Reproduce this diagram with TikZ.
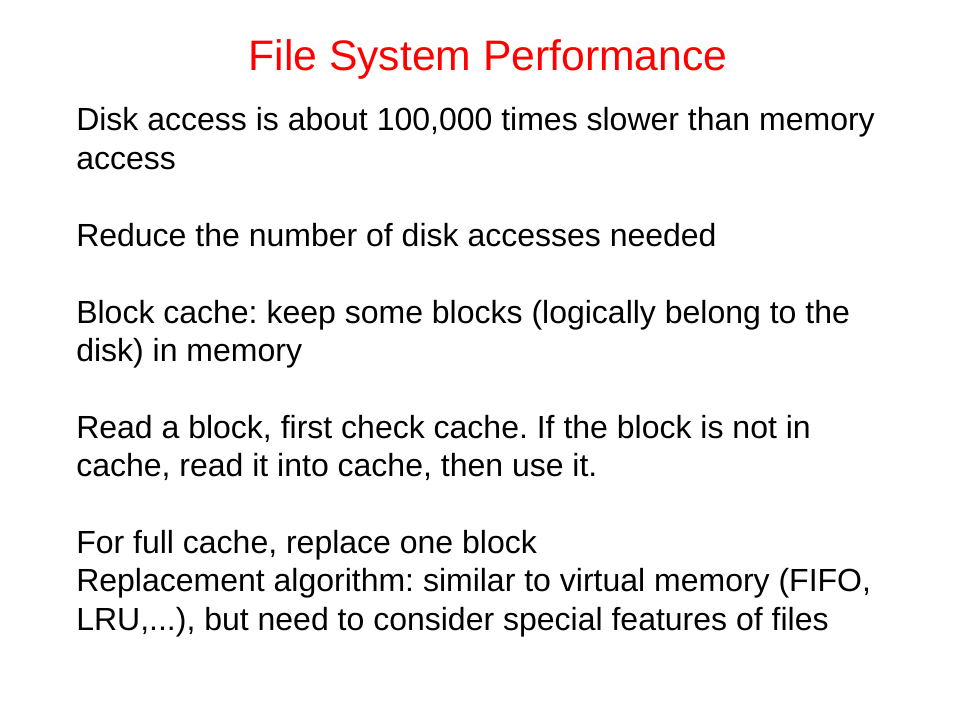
\documentclass[tikz,border=0pt]{standalone}
\usepackage{fontspec}
\setmainfont{Liberation Sans}
\usepackage{tikz}
\frenchspacing

\begin{document}
\begin{tikzpicture}[x=0.75pt,y=-0.75pt,
	title/.style={anchor=base,inner sep=0pt,text=red,font=\fontsize{32}{38}\selectfont},
	line/.style={anchor=base west,inner sep=0pt,font=\fontsize{24}{28.8}\selectfont}]
	\useasboundingbox (0,0) rectangle (960,720);
	
	\node[title] (head) at (488,71) {File System Performance};
	
	\node[line] (l1) at (76,131) {Disk access is about 100,000 times slower than memory};
	\node[line] (l2) at (76,169.4) {access};
	\node[line] (l3) at (76,246.2) {Reduce the number of disk accesses needed};
	\node[line] (l4) at (76,323) {Block cache: keep some blocks (logically belong to the};
	\node[line] (l5) at (76,361.4) {disk) in memory};
	\node[line] (l6) at (76,438.2) {Read a block, first check cache. If the block is not in};
	\node[line] (l7) at (76,476.6) {cache, read it into cache, then use it.};
	\node[line] (l8) at (76,553.4) {For full cache, replace one block};
	\node[line] (l9) at (76,591.8) {Replacement algorithm: similar to virtual memory (FIFO,};
	\node[line] (l10) at (76,630.2) {LRU,...), but need to consider special features of files};
\end{tikzpicture}
\end{document}
